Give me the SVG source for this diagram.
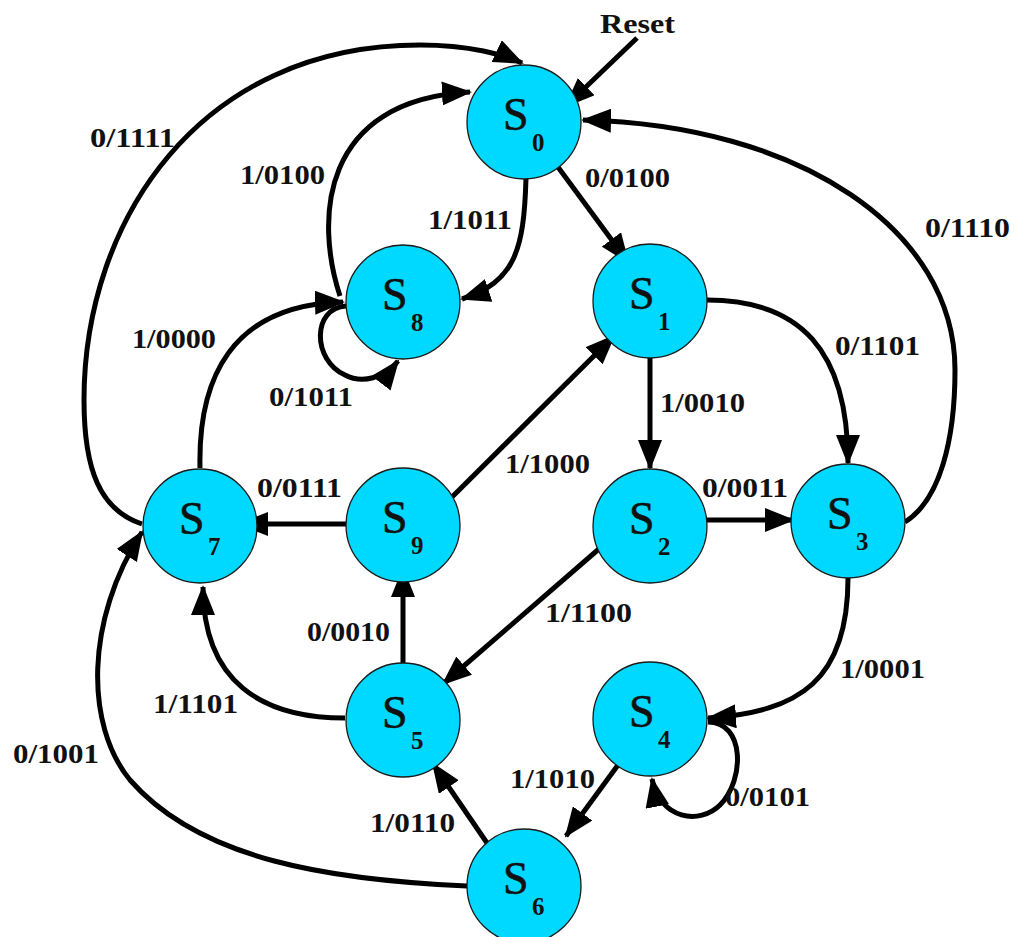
<svg xmlns="http://www.w3.org/2000/svg" width="1015" height="937" viewBox="0 0 1015 937">
<defs>
<style>
.node{fill:#00d9ff;stroke:#1a1a1a;stroke-width:1.3}
.s{font-family:"Liberation Serif","Times New Roman",serif;font-size:46px;fill:#111;stroke:#111;stroke-width:0.6}
.sub{font-family:"Liberation Serif","Times New Roman",serif;font-size:25px;font-weight:bold;fill:#111}
.lbl{font-family:"Liberation Serif","Times New Roman",serif;font-size:27px;font-weight:bold;fill:#111}
.e{fill:none;stroke:#000;stroke-width:5;marker-end:url(#ah)}
</style>
<marker id="ah" markerUnits="userSpaceOnUse" viewBox="0 0 30 24" markerWidth="30" markerHeight="24" refX="28" refY="12" orient="auto">
<path d="M0,0 L30,12 L0,24 z" fill="#000"/>
</marker>
</defs>
<rect width="1015" height="937" fill="#fff"/>
<g id="connectors">
<path class="e" d="M637,38 L566,106"/>
<path class="e" d="M555,163 L628,262"/>
<path class="e" d="M526,178 C524,250 515,282 462,299"/>
<path class="e" d="M340,296 C315,220 320,100 470,92"/>
<path class="e" d="M346,306 C312,308 312,360 345,375 C362,384 385,378 398,361"/>
<path class="e" d="M650,358 L650,468"/>
<path class="e" d="M707,300 C800,300 848,350 848,463"/>
<path class="e" d="M707,520 L793,520"/>
<path class="e" d="M905,522 C940,500 955,440 955,370 C955,230 800,125 583,120"/>
<path class="e" d="M848,578 C848,680 800,712 708,718"/>
<path class="e" d="M708,722 C745,722 745,780 720,805 C700,825 660,820 652,779"/>
<path class="e" d="M600,548 L443,684"/>
<path class="e" d="M403,670 L403,569"/>
<path class="e" d="M355,524 L240,524"/>
<path class="e" d="M446,503 L614,336"/>
<path class="e" d="M345,718 C262,718 203,682 203,587"/>
<path class="e" d="M487,843 L433,764"/>
<path class="e" d="M618,765 L566,836"/>
<path class="e" d="M467,886 C330,880 200,860 130,780 C85,725 85,620 142,532"/>
<path class="e" d="M200,468 C198,380 230,305 343,302"/>
<path class="e" d="M142,524 C100,510 84,470 84,400 C84,220 200,45 420,45 C470,45 505,55 522,63"/>
</g>
<g id="S0"><circle class="node" cx="524" cy="122" r="57"/><text class="s" x="503" y="130">S</text><text class="sub" x="532" y="151">0</text></g>
<g id="S1"><circle class="node" cx="650" cy="301" r="57"/><text class="s" x="629" y="309">S</text><text class="sub" x="658" y="330">1</text></g>
<g id="S8"><circle class="node" cx="403" cy="302" r="57"/><text class="s" x="382" y="310">S</text><text class="sub" x="411" y="331">8</text></g>
<g id="S7"><circle class="node" cx="200" cy="526" r="57"/><text class="s" x="179" y="534">S</text><text class="sub" x="208" y="555">7</text></g>
<g id="S9"><circle class="node" cx="403" cy="525" r="57"/><text class="s" x="382" y="533">S</text><text class="sub" x="411" y="554">9</text></g>
<g id="S2"><circle class="node" cx="650" cy="526" r="57"/><text class="s" x="629" y="534">S</text><text class="sub" x="658" y="555">2</text></g>
<g id="S3"><circle class="node" cx="848" cy="521" r="57"/><text class="s" x="827" y="529">S</text><text class="sub" x="856" y="550">3</text></g>
<g id="S4"><circle class="node" cx="650" cy="719" r="57"/><text class="s" x="629" y="727">S</text><text class="sub" x="658" y="748">4</text></g>
<g id="S5"><circle class="node" cx="403" cy="720" r="57"/><text class="s" x="382" y="728">S</text><text class="sub" x="411" y="749">5</text></g>
<g id="S6"><circle class="node" cx="524" cy="886" r="57"/><text class="s" x="503" y="894">S</text><text class="sub" x="532" y="915">6</text></g>
<g id="labels">
<text class="lbl" x="600" y="33" textLength="75" lengthAdjust="spacingAndGlyphs">Reset</text>
<text class="lbl" x="90" y="147" textLength="85" lengthAdjust="spacingAndGlyphs">0/1111</text>
<text class="lbl" x="240" y="184" textLength="85" lengthAdjust="spacingAndGlyphs">1/0100</text>
<text class="lbl" x="428" y="229" textLength="84" lengthAdjust="spacingAndGlyphs">1/1011</text>
<text class="lbl" x="585" y="187" textLength="85" lengthAdjust="spacingAndGlyphs">0/0100</text>
<text class="lbl" x="925" y="237" textLength="85" lengthAdjust="spacingAndGlyphs">0/1110</text>
<text class="lbl" x="132" y="348" textLength="84" lengthAdjust="spacingAndGlyphs">1/0000</text>
<text class="lbl" x="269" y="406" textLength="84" lengthAdjust="spacingAndGlyphs">0/1011</text>
<text class="lbl" x="835" y="355" textLength="85" lengthAdjust="spacingAndGlyphs">0/1101</text>
<text class="lbl" x="660" y="412" textLength="85" lengthAdjust="spacingAndGlyphs">1/0010</text>
<text class="lbl" x="505" y="473" textLength="85" lengthAdjust="spacingAndGlyphs">1/1000</text>
<text class="lbl" x="257" y="497" textLength="85" lengthAdjust="spacingAndGlyphs">0/0111</text>
<text class="lbl" x="702" y="497" textLength="86" lengthAdjust="spacingAndGlyphs">0/0011</text>
<text class="lbl" x="545" y="622" textLength="87" lengthAdjust="spacingAndGlyphs">1/1100</text>
<text class="lbl" x="307" y="641" textLength="83" lengthAdjust="spacingAndGlyphs">0/0010</text>
<text class="lbl" x="840" y="678" textLength="85" lengthAdjust="spacingAndGlyphs">1/0001</text>
<text class="lbl" x="153" y="713" textLength="85" lengthAdjust="spacingAndGlyphs">1/1101</text>
<text class="lbl" x="13" y="763" textLength="86" lengthAdjust="spacingAndGlyphs">0/1001</text>
<text class="lbl" x="510" y="788" textLength="85" lengthAdjust="spacingAndGlyphs">1/1010</text>
<text class="lbl" x="725" y="806" textLength="85" lengthAdjust="spacingAndGlyphs">0/0101</text>
<text class="lbl" x="370" y="832" textLength="85" lengthAdjust="spacingAndGlyphs">1/0110</text>
</g>
</svg>
